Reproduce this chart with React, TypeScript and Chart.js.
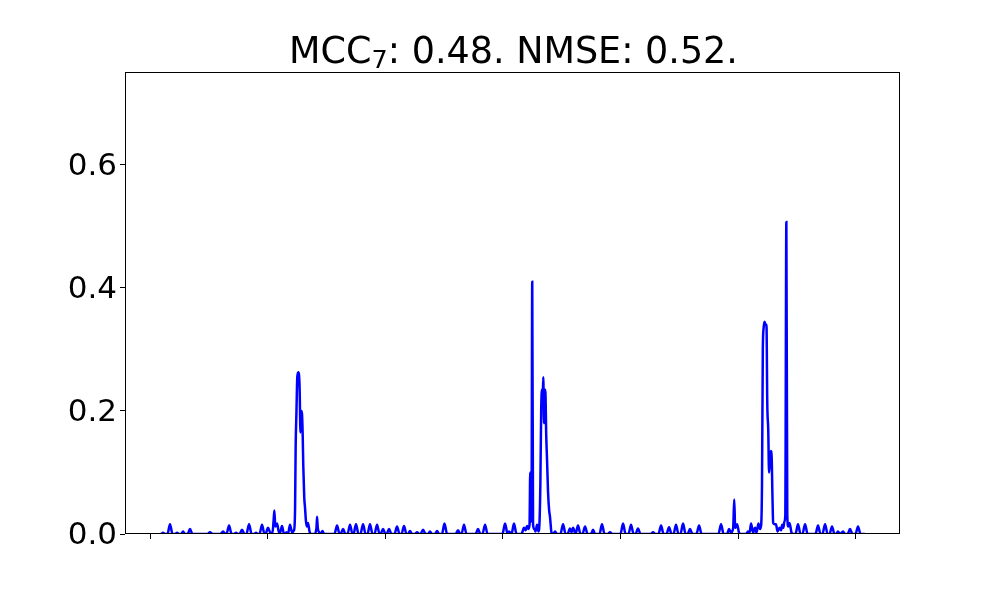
import React, { useEffect, useRef } from "react";
import { Chart, registerables } from "chart.js";

Chart.register(...registerables);

const sampleX = [
  87, 94, 111, 128, 149, 170, 191, 213, 230, 247, 264, 281, 298, 319, 340, 361,
  489, 510, 531, 599, 621, 642, 650, 672, 693, 714, 731, 748, 761, 782, 803, 820,
  842, 863, 884, 901, 918, 931, 952, 973, 982, 1003, 1024, 1041, 1050, 1057, 1065, 1080,
  1097, 1105, 1122, 1139, 1148, 1160, 1173, 1190, 1207, 1224, 1233, 1238, 1245, 1252, 1260, 1267,
  1272, 1279, 1286, 1292, 1298, 1303, 1311, 1318, 1326, 1335, 1343, 1356, 1369, 1398, 1415, 1420,
  1426, 1441, 1454, 1466, 1479, 1568, 1590, 1611, 1619, 1641, 1662, 1679, 1700, 1721, 1730, 1751,
  1772, 1789, 1811, 1832, 1849, 1870, 1891, 1908, 1930, 1951, 1959, 1981, 2002, 2010, 2032, 2053,
  2078, 2100, 2121, 2138, 2159, 2180, 2193, 2210, 2227, 2253, 2270, 2287, 2299, 2321, 2342, 2363,
  2380, 2397, 2423, 2440, 2457, 2482, 2503, 2525, 2597, 2618, 2639, 2648, 2669, 2690, 2767, 2788,
  2809, 2826, 2848, 2869, 2996, 3018, 3039, 3052, 3073, 3094, 3115, 3158, 3179, 3192, 3205, 3217,
  3226, 3232, 3237, 3243, 3249, 3256, 3268, 3277, 3290, 3302, 3311, 3318, 3325, 3332, 3338, 3343,
  3349, 3355, 3361, 3368, 3375, 3383, 3392, 3400, 3413, 3426, 3443, 3460, 3489, 3511, 3532, 3549,
  3570, 3583, 3596, 3617, 3638, 3659, 3676, 3698, 3719, 3749, 3766, 3783, 3821, 3842, 3863, 3893,
  3910, 3927, 3999, 4021, 4042, 4067, 4089, 4110, 4127, 4148, 4169, 4259, 4276, 4293, 4322, 4344,
  4365, 4390, 4412, 4433, 4450, 4471, 4492, 4509, 4531, 4552, 4569, 4590, 4611, 4645, 4667, 4688,
  4832, 4854, 4875, 4905, 4922, 4939, 4957, 4966, 4974, 4990, 5007, 5024, 5066, 5083, 5096, 5109,
  5126, 5143, 5155, 5172, 5185, 5195, 5202, 5209, 5216, 5224, 5232, 5240, 5247, 5255, 5262, 5269,
  5277, 5284, 5291, 5297, 5308, 5321, 5334, 5351, 5364, 5374, 5383, 5392, 5400, 5409, 5417, 5426,
  5436, 5453, 5466, 5487, 5508, 5529, 5546, 5568, 5589, 5657, 5678, 5699, 5716, 5738, 5759, 5776,
  5797, 5818, 5831, 5848, 5865, 5891, 5908, 5929, 5950, 5971, 5997, 6018, 6039, 6078,
];

const sampleY = [
  0, 0, 0.002, 0, 0, 0.016, 0, 0, 0.002, 0, 0, 0.004, 0, 0, 0.008, 0,
  0, 0.003, 0, 0, 0.004, 0, 0, 0.014, 0, 0, 0.002, 0, 0, 0.007, 0, 0,
  0.016, 0, 0, 0.002, 0, 0, 0.015, 0, 0, 0.01, 0.002, 0.002, 0.02, 0.038, 0.012, 0.017,
  0.002, 0.002, 0.013, 0, 0, 0.003, 0, 0.015, 0.003, 0.006, 0.04, 0.14, 0.2, 0.255, 0.263, 0.258,
  0.235, 0.165, 0.2, 0.195, 0.16, 0.11, 0.06, 0.042, 0.02, 0.012, 0.018, 0.004, 0, 0, 0.01, 0.028,
  0.01, 0.002, 0, 0.005, 0, 0, 0.014, 0, 0, 0.008, 0, 0, 0.015, 0, 0, 0.016,
  0, 0, 0.016, 0, 0, 0.016, 0, 0, 0.015, 0, 0, 0.008, 0, 0, 0.008, 0,
  0, 0.012, 0, 0, 0.013, 0, 0, 0.005, 0, 0, 0.003, 0, 0, 0.007, 0, 0,
  0.004, 0, 0, 0.005, 0, 0, 0.017, 0, 0, 0.006, 0, 0, 0.015, 0, 0, 0.008,
  0, 0, 0.015, 0, 0, 0.017, 0, 0.004, 0, 0.017, 0, 0, 0.01, 0.006, 0.013, 0.008,
  0.015, 0.1, 0.02, 0.03, 0.41, 0.015, 0.008, 0.004, 0.015, 0.004, 0.02, 0.08, 0.2, 0.235, 0.22, 0.255,
  0.18, 0.235, 0.23, 0.16, 0.12, 0.07, 0.04, 0.028, 0.002, 0, 0.004, 0, 0, 0.016, 0, 0,
  0.009, 0.003, 0.01, 0, 0.014, 0, 0, 0.012, 0, 0, 0.007, 0, 0, 0.016, 0, 0,
  0.003, 0, 0, 0.017, 0, 0, 0.015, 0, 0, 0.009, 0, 0, 0.003, 0, 0, 0.014,
  0, 0, 0.011, 0, 0, 0.015, 0, 0, 0.017, 0, 0, 0.008, 0, 0, 0.014, 0,
  0, 0.016, 0, 0, 0.008, 0.002, 0.01, 0.056, 0.01, 0.016, 0.002, 0, 0, 0.004, 0.002, 0.017,
  0.002, 0.01, 0.002, 0.017, 0.008, 0.015, 0.08, 0.3, 0.335, 0.345, 0.34, 0.34, 0.21, 0.17, 0.1, 0.12,
  0.135, 0.125, 0.06, 0.018, 0.016, 0.016, 0.004, 0.01, 0.006, 0.015, 0.01, 0.02, 0.03, 0.507, 0.03, 0.012,
  0.018, 0.002, 0, 0, 0.016, 0, 0, 0.016, 0, 0, 0.014, 0, 0, 0.016, 0, 0,
  0.012, 0, 0, 0.004, 0, 0.004, 0, 0, 0.008, 0, 0, 0.012, 0, 0,
];

const xTicks = [0, 1000, 2000, 3000, 4000, 5000, 6000];
const yTicks = [0, 0.2, 0.4, 0.6];

const titleMain = "MCC";
const titleSub = "7";
const titleRest = ": 0.48. NMSE: 0.52.";

const FONT = '"DejaVu Sans", "Liberation Sans", sans-serif';

const framePlugin = {
  id: "frameAndTitle",
  afterDraw(chart: any) {
    const { ctx, chartArea } = chart;
    const { left, right, top, bottom } = chartArea;
    ctx.save();
    ctx.strokeStyle = "#000";
    ctx.lineWidth = 1;
    ctx.strokeRect(Math.round(left) + 0.5, Math.round(top) + 0.5, Math.round(right - left) - 1, Math.round(bottom - top) - 1);

    // Title with subscript
    const mainSize = 36.5;
    const subSize = 25.5;
    ctx.fillStyle = "#000";
    ctx.textBaseline = "alphabetic";
    ctx.textAlign = "left";
    ctx.font = `${mainSize}px ${FONT}`;
    const w1 = ctx.measureText(titleMain).width;
    const w3 = ctx.measureText(titleRest).width;
    ctx.font = `${subSize}px ${FONT}`;
    const w2 = ctx.measureText(titleSub).width;
    const total = w1 + w2 + w3;
    const cx = (left + right) / 2;
    let x = cx - total / 2 + 1;
    const baseline = 63;
    ctx.font = `${mainSize}px ${FONT}`;
    ctx.fillText(titleMain, x, baseline);
    x += w1;
    ctx.font = `${subSize}px ${FONT}`;
    ctx.fillText(titleSub, x, baseline + 5);
    x += w2;
    ctx.font = `${mainSize}px ${FONT}`;
    ctx.fillText(titleRest, x, baseline);
    ctx.restore();
  },
};

export default function App() {
  const canvasRef = useRef<HTMLCanvasElement | null>(null);

  useEffect(() => {
    if (!canvasRef.current) return;
    const points = sampleX.map((x, i) => ({ x, y: sampleY[i] }));
    const chart = new Chart(canvasRef.current, {
      type: "line",
      data: {
        datasets: [
          {
            data: points,
            borderColor: "#0000ff",
            borderWidth: 2.5,
            pointRadius: 0,
            fill: false,
            cubicInterpolationMode: "monotone",
          },
        ],
      },
      options: {
        responsive: false,
        animation: false,
        devicePixelRatio: 1,
        layout: { padding: { top: 72, right: 100, left: 0, bottom: 0 } },
        plugins: {
          legend: { display: false },
          tooltip: { enabled: false },
          title: { display: false },
        },
        scales: {
          x: {
            type: "linear",
            min: -212.5,
            max: 6375,
            afterBuildTicks: (scale: any) => {
              scale.ticks = xTicks.map((v) => ({ value: v }));
            },
            afterFit: (scale: any) => {
              scale.height = 66;
            },
            ticks: { display: false },
            grid: {
              display: true,
              drawOnChartArea: false,
              drawTicks: true,
              tickLength: 5,
              color: "#000",
              lineWidth: 1,
            },
            border: { display: false },
          },
          y: {
            type: "linear",
            min: 0,
            max: 0.751,
            afterBuildTicks: (scale: any) => {
              scale.ticks = yTicks.map((v) => ({ value: v }));
            },
            afterFit: (scale: any) => {
              scale.width = 125;
            },
            ticks: {
              color: "#000",
              padding: 3,
              labelOffset: 2,
              font: { family: FONT, size: 31 },
              callback: (v: any) => Number(v).toFixed(1),
            },
            grid: {
              display: true,
              drawOnChartArea: false,
              drawTicks: true,
              tickLength: 5,
              color: "#000",
              lineWidth: 1,
            },
            border: { display: false },
          },
        },
      },
      plugins: [framePlugin],
    });
    return () => chart.destroy();
  }, []);

  return (
    <div style={{ position: "absolute", left: 0, top: 0, width: 1000, height: 600, background: "#fff" }}>
      <canvas ref={canvasRef} width={1000} height={600} style={{ width: 1000, height: 600, display: "block" }} />
    </div>
  );
}
